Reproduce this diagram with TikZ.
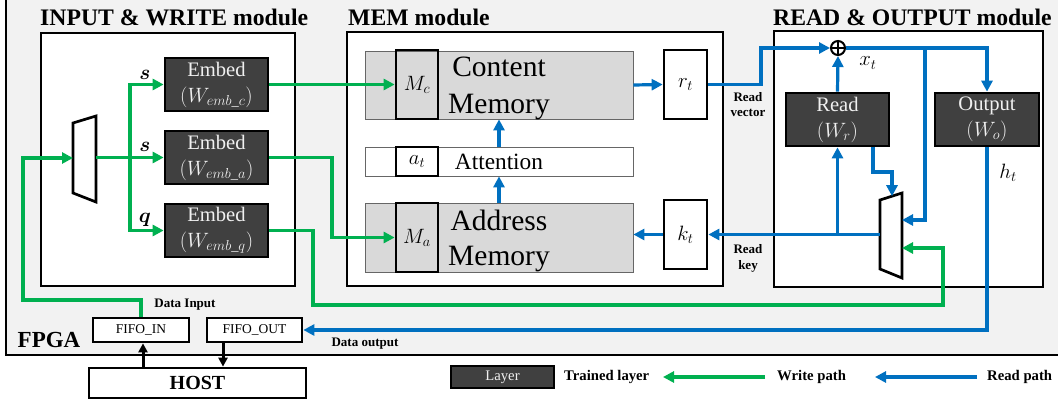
\documentclass[tikz,border=0pt]{standalone}
\usepackage{fontspec}
\setmainfont{Liberation Serif}
\usepackage{amsmath}
\usetikzlibrary{arrows.meta,calc}
\definecolor{wgreen}{HTML}{00B050}
\definecolor{rblue}{HTML}{0070C0}
\definecolor{layerfill}{HTML}{404040}
\definecolor{memfill}{HTML}{D9D9D9}
\definecolor{fpgafill}{HTML}{F2F2F2}
\definecolor{lighttext}{HTML}{F0F0F0}
\tikzset{
  title/.style={font=\fontsize{23.7}{28}\selectfont\bfseries, inner sep=0},
  modbox/.style={draw, line width=2.7, fill=white, inner sep=0},
  layerbox/.style={draw, line width=2.7, fill=layerfill, text=lighttext, inner sep=0, align=center,
     font=\fontsize{20.6}{26}\selectfont, minimum width=103, minimum height=53},
  membox/.style={draw=black!60, line width=0.8, fill=memfill, inner sep=0, minimum width=268},
  attbox/.style={draw=black!60, line width=0.8, fill=white, inner sep=0, minimum width=268},
  keybox/.style={draw, line width=2.7, inner sep=0, font=\fontsize{20.5}{24}\selectfont},
  smallbox/.style={draw, line width=2.7, fill=white, inner sep=0, font=\fontsize{13.5}{16}\selectfont},
  lbl/.style={inner sep=0, font=\fontsize{13}{15.5}\selectfont\bfseries, align=center},
  mlbl/.style={inner sep=0, font=\fontsize{21}{24}\selectfont},
  legtext/.style={inner sep=0, anchor=west, font=\fontsize{14.7}{17}\selectfont\bfseries},
  gpath/.style={draw=wgreen, line width=3.2, -{Triangle[length=11,width=11]}},
  bpath/.style={draw=rblue, line width=3.2, -{Triangle[length=11,width=11]}},
  kpath/.style={draw=black, line width=3, -{Triangle[length=9,width=9]}},
  muxshape/.style={draw, line width=2.7, fill=white, line join=miter}
}
\begin{document}
\begin{tikzpicture}[x=1pt,y=-1pt]
\useasboundingbox (0,0) rectangle (1058,404);
\fill[white] (0,0) rectangle (1058,404);
% FPGA
\draw[fill=fpgafill, line width=2.7] (6,-10) rectangle (1075,355);
\node[inner sep=0, font=\fontsize{23}{27}\selectfont\bfseries] (fpga) at (49,340) {FPGA};

% titles
\node[title, anchor=base west] (t1) at (40,26) {INPUT \& WRITE module};
\node[title, anchor=base west] (t2) at (348,26) {MEM module};
\node[title, anchor=base west] (t3) at (773,26) {READ \& OUTPUT module};

% module boxes
\node[modbox, minimum width=254, minimum height=253] (inbox) at (168,159.5) {};
\node[modbox, minimum width=376, minimum height=254] (mem) at (535,159) {};
\node[modbox, minimum width=269, minimum height=256] (ro) at (908.5,159) {};

% embed layers
\node[layerbox] (embc) at (216.5,84.5) {Embed\\$(W_{emb\_c})$};
\node[layerbox] (emba) at (216.5,157.5) {Embed\\$(W_{emb\_a})$};
\node[layerbox] (embq) at (216.5,230.5) {Embed\\$(W_{emb\_q})$};

% input mux
\coordinate (m1a) at (73,123);
\coordinate (m1b) at (96,116);
\coordinate (m1c) at (96,202);
\coordinate (m1d) at (73,193);
\draw[muxshape] (m1a) -- (m1b) -- (m1c) -- (m1d) -- cycle;
\coordinate (mux1l) at (73,158);
\coordinate (mux1r) at (96,157.5);
\coordinate (jn) at (130,157.5);

% memory
\node[membox, minimum height=68] (cmem) at (499,85) {};
\node[attbox, minimum height=29] (att) at (499,161.5) {};
\node[membox, minimum height=69] (amem) at (499,237.5) {};
\node[keybox, minimum width=42, minimum height=69] (mc) at (417,84.5) {$M_c$};
\node[keybox, minimum width=42, minimum height=29] (at) at (417,161.5) {$a_t$};
\node[keybox, minimum width=42, minimum height=69] (ma) at (417,237.5) {$M_a$};
\node[inner sep=0, align=center, font=\fontsize{29.5}{36.5}\selectfont] (ctext) at (499,88.5) {Content\\Memory};
\node[inner sep=0, font=\fontsize{23.3}{27}\selectfont] (atext) at (499,162) {Attention};
\node[inner sep=0, align=center, font=\fontsize{29.5}{35}\selectfont] (atext2) at (499,241) {Address\\Memory};
\node[keybox, fill=white, minimum width=43, minimum height=69] (rt) at (685.5,84.5) {$r_t$};
\node[keybox, fill=white, minimum width=43, minimum height=69] (kt) at (685.5,234.5) {$k_t$};

% read & output
\node[layerbox] (readb) at (837.5,119.5) {Read\\$(W_r)$};
\node[layerbox, minimum width=104] (outb) at (987,119.5) {Output\\$(W_o)$};
\node[circle, draw, line width=2, minimum size=14, inner sep=0, fill=white] (oplus) at (838,48) {};
\draw[line width=2] (oplus.north) -- (oplus.south) (oplus.west) -- (oplus.east);
\coordinate (m2a) at (880,200);
\coordinate (m2b) at (902,193);
\coordinate (m2c) at (902,278);
\coordinate (m2d) at (880,269);
\draw[muxshape] (m2a) -- (m2b) -- (m2c) -- (m2d) -- cycle;
\coordinate (mux2l) at (880,234.5);
\coordinate (mux2b) at (902,220);
\coordinate (mux2g) at (902,248);
\coordinate (mux2t) at (892,196.2);

% fifo / host
\node[smallbox, minimum width=96, minimum height=24] (fifoin) at (141,330) {FIFO\_IN};
\node[smallbox, minimum width=95, minimum height=24] (fifoout) at (254.5,330) {FIFO\_OUT};
\node[draw, line width=2.7, fill=white, minimum width=217, minimum height=30, inner sep=0,
      font=\fontsize{20}{24}\selectfont\bfseries] (host) at (197.5,383) {HOST};

% labels
\node[mlbl] (ls1) at (145,75) {$\boldsymbol{s}$};
\node[mlbl] (ls2) at (145,147) {$\boldsymbol{s}$};
\node[mlbl] (lq) at (145,220) {$\boldsymbol{q}$};
\node[mlbl] (lx) at (868,63) {$x_t$};
\node[mlbl] (lh) at (1008,173) {$h_t$};
\node[lbl] (lrv) at (748,104.5) {Read\\vector};
\node[lbl] (lrk) at (748,258.5) {Read\\key};
\node[lbl] (ldi) at (185,305) {Data Input};
\node[lbl] (ldo) at (365,344) {Data output};

% green write paths
\draw[gpath] (fifoin.north) |- (23,300) |- (mux1l);
\draw[draw=wgreen, line width=3.2] (mux1r) -- (jn);
\draw[gpath] (jn) -- (emba.west);
\draw[gpath] (jn) |- (embc.west);
\draw[gpath] (jn) |- (embq.west);
\draw[gpath] (embc.east) -- (mc.west);
\draw[gpath] (emba.east) -- (332,157.5) -- (332,237.5) -- (ma.west);
\draw[gpath] (embq.east) -- (313,230.5) -- (313,305) -- (943,305) -- (943,248) -- (mux2g);

% blue read paths
\draw[bpath] (cmem.east) -- (rt.west);
\draw[bpath] (kt.west) -- (amem.east |- kt.west);
\draw[bpath] (amem.north) -- (att.south);
\draw[bpath] (att.north) -- (cmem.south);
\draw[bpath] (rt.east) -- (761,84.5) -- (761,48) -- (oplus.west);
\draw[bpath] (oplus.east) -- (outb.north |- oplus.east) -- (outb.north);
\draw[bpath] (925,48) |- (mux2b);
\draw[bpath] (readb.north) -- (oplus.south);
\draw[bpath] ($(readb.south)+(35.5,0)$) -- (873,172) -- (892,172) -- (mux2t);
\draw[bpath] (mux2l) -- (kt.east);
\draw[bpath] (readb.south |- mux2l) -- (readb.south);
\draw[bpath] (outb.south) -- (987,330) -- (fifoout.east);

% host arrows
\draw[kpath] (host.north -| 143,0) -- (fifoin.south -| 143,0);
\draw[kpath] (fifoout.south -| 223,0) -- (host.north -| 223,0);

% legend
\node[draw, line width=2.7, fill=layerfill, text=lighttext, minimum width=103, minimum height=22, inner sep=0,
      font=\fontsize{14.7}{17}\selectfont] (leglayer) at (502.5,377) {Layer};
\node[legtext] (legtl) at (564,377) {Trained layer};
\coordinate (lg1) at (765,377);
\coordinate (lg2) at (663,377);
\draw[gpath] (lg1) -- (lg2);
\node[legtext] (legw) at (777,377) {Write path};
\coordinate (lb1) at (977,377);
\coordinate (lb2) at (875,377);
\draw[bpath] (lb1) -- (lb2);
\node[legtext] (legr) at (987,377) {Read path};
\end{tikzpicture}
\end{document}
